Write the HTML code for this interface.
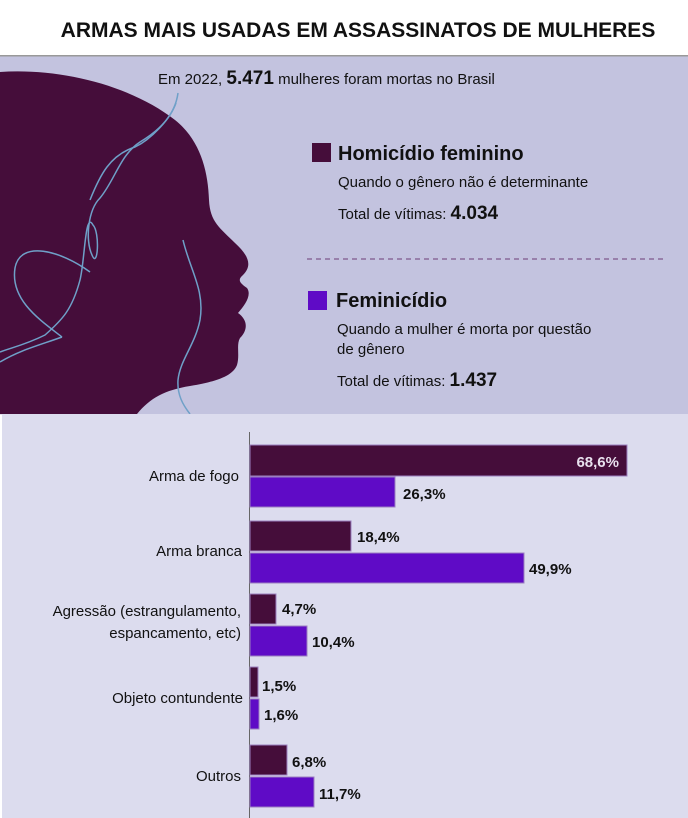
<!DOCTYPE html>
<html><head><meta charset="utf-8"><style>
html,body{margin:0;padding:0;background:#fff;}
svg{display:block;font-family:"Liberation Sans",sans-serif;}
</style></head><body>
<svg width="688" height="818" viewBox="0 0 688 818" xmlns="http://www.w3.org/2000/svg">
<rect x="0" y="0" width="688" height="818" fill="#fff"/>
<text x="358" y="37" text-anchor="middle" font-size="21" font-weight="bold" fill="#111">ARMAS MAIS USADAS EM ASSASSINATOS DE MULHERES</text>
<rect x="0" y="55" width="688" height="1.5" fill="#999"/>
<rect x="0" y="56.5" width="688" height="358" fill="#c3c3df"/>
<path d="M0,72 C60,68 130,85 175,120 C200,140 208,170 209,200 C210,222 220,228 235,243 C248,255 253,265 243,275 C237,280 240,283 247,288 C252,295 245,305 238,313 C248,320 248,330 240,338 C236,345 240,355 237,365 C233,375 220,381 190,386 C165,390 150,398 137,414 L0,414 Z" fill="#450d3a"/>
<g fill="none" stroke="#6fa0c8" stroke-width="1.5">
<path d="M178,93 C175,115 160,130 140,142 C120,155 115,180 100,198 C88,210 85,240 92,255 C98,270 100,232 93,225 C85,210 85,260 80,280 C72,310 62,320 45,335 C25,345 10,348 0,352"/>
<path d="M176,103 C170,120 150,140 135,147 C110,155 100,175 90,200"/>
<path d="M62,337 C40,320 10,300 15,268 C20,240 60,250 90,272"/>
<path d="M62,337 C40,345 20,350 0,362"/>
<path d="M183,240 C190,270 205,290 200,320 C195,345 180,360 178,380 C177,395 183,405 190,414"/>
</g>
<text x="158" y="84" font-size="15" fill="#111">Em 2022, <tspan font-weight="bold" font-size="19">5.471</tspan> mulheres foram mortas no Brasil</text>
<rect x="312" y="143" width="19" height="19" fill="#450d3a"/>
<text x="338" y="160" font-size="20" font-weight="bold" fill="#111">Homicídio feminino</text>
<text x="338" y="187" font-size="15" fill="#111">Quando o gênero não é determinante</text>
<text x="338" y="219" font-size="15" fill="#111">Total de vítimas: <tspan font-weight="bold" font-size="19">4.034</tspan></text>
<line x1="307" y1="259" x2="665" y2="259" stroke="#8a6a9a" stroke-width="1.5" stroke-dasharray="5,4"/>
<rect x="308" y="291" width="19" height="19" fill="#5f0bc6"/>
<text x="336" y="307" font-size="20" font-weight="bold" fill="#111">Feminicídio</text>
<text x="337" y="334" font-size="15" fill="#111">Quando a mulher é morta por questão</text>
<text x="337" y="354" font-size="15" fill="#111">de gênero</text>
<text x="337" y="386" font-size="15" fill="#111">Total de vítimas: <tspan font-weight="bold" font-size="19">1.437</tspan></text>
<rect x="2" y="414" width="686" height="404" fill="#dcdcee"/>
<line x1="249.5" y1="432" x2="249.5" y2="818" stroke="#666" stroke-width="1"/>
<g stroke="#9b7fc0" stroke-width="1">
<rect x="250" y="445" width="377" height="31" fill="#450d3a"/>
<rect x="250" y="477" width="145" height="30" fill="#5f0bc6"/>
<rect x="250" y="521" width="101" height="30" fill="#450d3a"/>
<rect x="250" y="553" width="274" height="30" fill="#5f0bc6"/>
<rect x="250" y="594" width="26" height="30" fill="#450d3a"/>
<rect x="250" y="626" width="57" height="30" fill="#5f0bc6"/>
<rect x="250" y="667" width="8" height="30" fill="#450d3a"/>
<rect x="250" y="699" width="9" height="30" fill="#5f0bc6"/>
<rect x="250" y="745" width="37" height="30" fill="#450d3a"/>
<rect x="250" y="777" width="64" height="30" fill="#5f0bc6"/>
</g>
<g font-size="15" font-weight="bold" fill="#111">
<text x="619" y="467" text-anchor="end" fill="#e8e0ee">68,6%</text>
<text x="403" y="499">26,3%</text>
<text x="357" y="542">18,4%</text>
<text x="529" y="574">49,9%</text>
<text x="282" y="614">4,7%</text>
<text x="312" y="647">10,4%</text>
<text x="262" y="691">1,5%</text>
<text x="264" y="720">1,6%</text>
<text x="292" y="767">6,8%</text>
<text x="319" y="799">11,7%</text>
</g>
<g font-size="15" fill="#111" text-anchor="end">
<text x="239" y="481">Arma de fogo</text>
<text x="242" y="556">Arma branca</text>
<text x="241" y="616">Agressão (estrangulamento,</text>
<text x="241" y="638">espancamento, etc)</text>
<text x="243" y="703">Objeto contundente</text>
<text x="241" y="781">Outros</text>
</g>
</svg>
</body></html>
